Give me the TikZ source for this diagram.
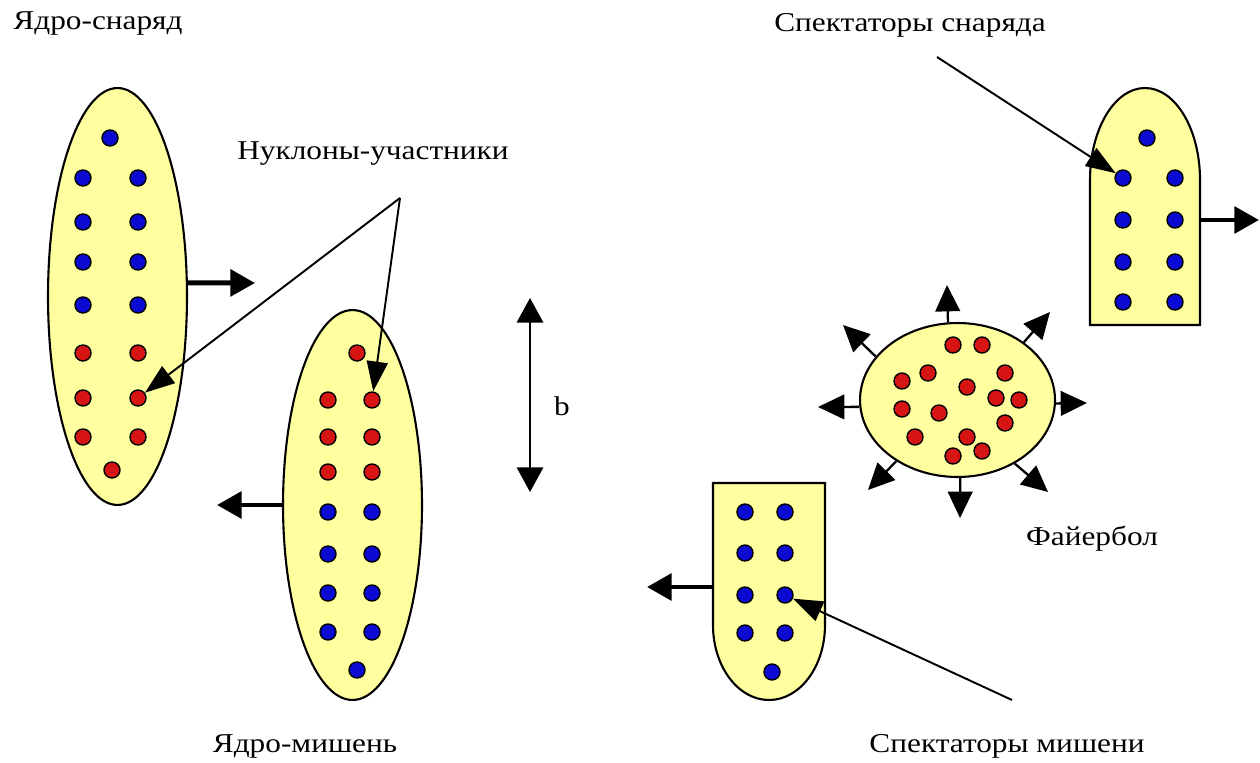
\documentclass[tikz,border=0pt]{standalone}
\usepackage{fontspec}
\setmainfont[FakeStretch=1.15]{Liberation Serif}
\usetikzlibrary{arrows.meta,shapes.geometric}
\definecolor{nucfill}{RGB}{255,255,160}
\definecolor{nblue}{RGB}{10,10,210}
\definecolor{nred}{RGB}{215,20,20}
\tikzset{
  nuc/.style={ellipse, draw=black, line width=1.2pt, fill=nucfill, inner sep=0pt},
  shapeline/.style={draw=black, line width=1.2pt, fill=nucfill},
  nb/.style={circle, draw=black, line width=0.8pt, fill=nblue, minimum size=0.32cm, inner sep=0pt},
  nr/.style={nb, fill=nred},
  mv/.style={line width=2.8pt, -{Triangle[length=14pt,width=15pt]}},
  ptr/.style={line width=1.1pt, -{Triangle[length=17pt,width=12pt]}},
  fba/.style={line width=1.3pt, -{Triangle[length=15pt,width=14pt]}},
  barr/.style={line width=1.2pt, {Triangle[length=14pt,width=15pt]}-{Triangle[length=14pt,width=15pt]}},
  lbl/.style={anchor=base, inner sep=0pt, font=\fontsize{15.5}{18}\selectfont},
}
\begin{document}
\begin{tikzpicture}[x=0.02cm,y=-0.02cm]
\useasboundingbox (0,0) rectangle (1260,763);

% ---------- projectile nucleus ----------
\node[nuc, minimum width=2.78cm, minimum height=8.34cm] (proj) at (117.5,296.5) {};
\foreach \n/\x/\y in {pb0/110/138, pb1/83/178, pb2/138/178, pb3/83/222, pb4/138/222,
    pb5/83/262, pb6/138/262, pb7/83/305, pb8/138/305}
  \node[nb] (\n) at (\x,\y) {};
\foreach \n/\x/\y in {pr1/83/353, pr1b/138/353, pr2a/83/398, pr2/138/398,
    pr3/83/437, pr3b/138/437, pr4/112/470}
  \node[nr] (\n) at (\x,\y) {};

% ---------- target nucleus ----------
\node[nuc, minimum width=2.78cm, minimum height=7.8cm] (tgt) at (352.5,505) {};
\foreach \n/\x/\y in {tr0/357/353, tr1a/328/400, tr1/372/400, tr2a/328/437, tr2/372/437,
    tr3a/328/472, tr3/372/472}
  \node[nr] (\n) at (\x,\y) {};
\foreach \n/\x/\y in {tb1/328/512, tb1b/372/512, tb2/328/554, tb2b/372/554,
    tb3/328/593, tb3b/372/593, tb4/328/632, tb4b/372/632, tb5/357/670}
  \node[nb] (\n) at (\x,\y) {};

% ---------- projectile spectators ----------
\draw[shapeline] (1090,325) -- (1090,180)
  arc[start angle=180, end angle=360, x radius=55, y radius=92] -- (1200,325) -- cycle;
\foreach \n/\x/\y in {s0/1147/138, s1/1123/178, s1b/1175/178, s2/1123/220, s2b/1175/220,
    s3/1123/262, s3b/1175/262, s4/1123/302, s4b/1175/302}
  \node[nb] (\n) at (\x,\y) {};

% ---------- target spectators ----------
\draw[shapeline] (713,483) -- (713,625)
  arc[start angle=180, end angle=0, x radius=56, y radius=75] -- (825,483) -- cycle;
\foreach \n/\x/\y in {m1/745/512, m1b/785/512, m2/745/553, m2b/785/553,
    m3a/745/595, m3/785/595, m4/745/633, m4b/785/633, m5/772/672}
  \node[nb] (\n) at (\x,\y) {};

% ---------- fireball ----------
\node[nuc, minimum width=3.9cm, minimum height=3.08cm] (fb) at (957.5,400) {};
\foreach \n/\x/\y in {f1/953/345, f2/982/345, f3/928/373, f4/1005/373, f5/902/381,
    f6/967/387, f7/996/398, f8/1019/400, f9/902/409, f10/939/413, f11/1005/423,
    f12/915/437, f13/967/437, f14/982/451, f15/953/456}
  \node[nr] (\n) at (\x,\y) {};

% fireball arrows
\coordinate (fU) at (947,285);
\coordinate (fD) at (960,518);
\coordinate (fL) at (818,407);
\coordinate (fR) at (1087,403);
\coordinate (fUL) at (843,325);
\coordinate (fUR) at (1050,312);
\coordinate (fLL) at (868,490);
\coordinate (fLR) at (1048,492);
\draw[fba] (fb.97) -- (fU);
\draw[fba] (fb.272) -- (fD);
\draw[fba] (fb.184) -- (fL);
\draw[fba] (fb.358) -- (fR);
\draw[fba] (fb.152) -- (fUL);
\draw[fba] (fb.41) -- (fUR);
\draw[fba] (fb.225) -- (fLL);
\draw[fba] (fb.312) -- (fLR);

% ---------- motion arrows ----------
\coordinate (projTip) at (255,283);
\coordinate (tgtTip) at (217,505);
\coordinate (sStart) at (1200,220);
\coordinate (sTip) at (1259,220);
\coordinate (mStart) at (713,587);
\coordinate (mTip) at (647,587);
\draw[mv] (proj.11) -- (projTip);
\draw[mv] (tgt.west) -- (tgtTip);
\draw[mv] (sStart) -- (sTip);
\draw[mv] (mStart) -- (mTip);

% ---------- impact parameter ----------
\coordinate (bTop) at (530,298);
\coordinate (bBot) at (530,492);
\draw[barr] (bTop) -- (bBot);
\node[lbl] (blab) at (562,415) {b};

% ---------- labels ----------
\node[lbl] (lproj) at (98,30) {Ядро-снаряд};
\node[lbl] (ltgt) at (305,752) {Ядро-мишень};
\node[lbl] (lpart) at (373,160) {Нуклоны-участники};
\node[lbl] (lsps) at (910,32) {Спектаторы снаряда};
\node[lbl] (lspm) at (1007,752) {Спектаторы мишени};
\node[lbl] (lfb) at (1092,545) {Файербол};

% ---------- pointers ----------
\coordinate (nu) at (400,198);
\coordinate (spsS) at (937,57);
\coordinate (spmS) at (1012,700);
\draw[ptr] (nu) -- (pr2);
\draw[ptr] (nu) -- (tr1);
\draw[ptr] (spsS) -- (s1);
\draw[ptr] (spmS) -- (m3);
\end{tikzpicture}
\end{document}
